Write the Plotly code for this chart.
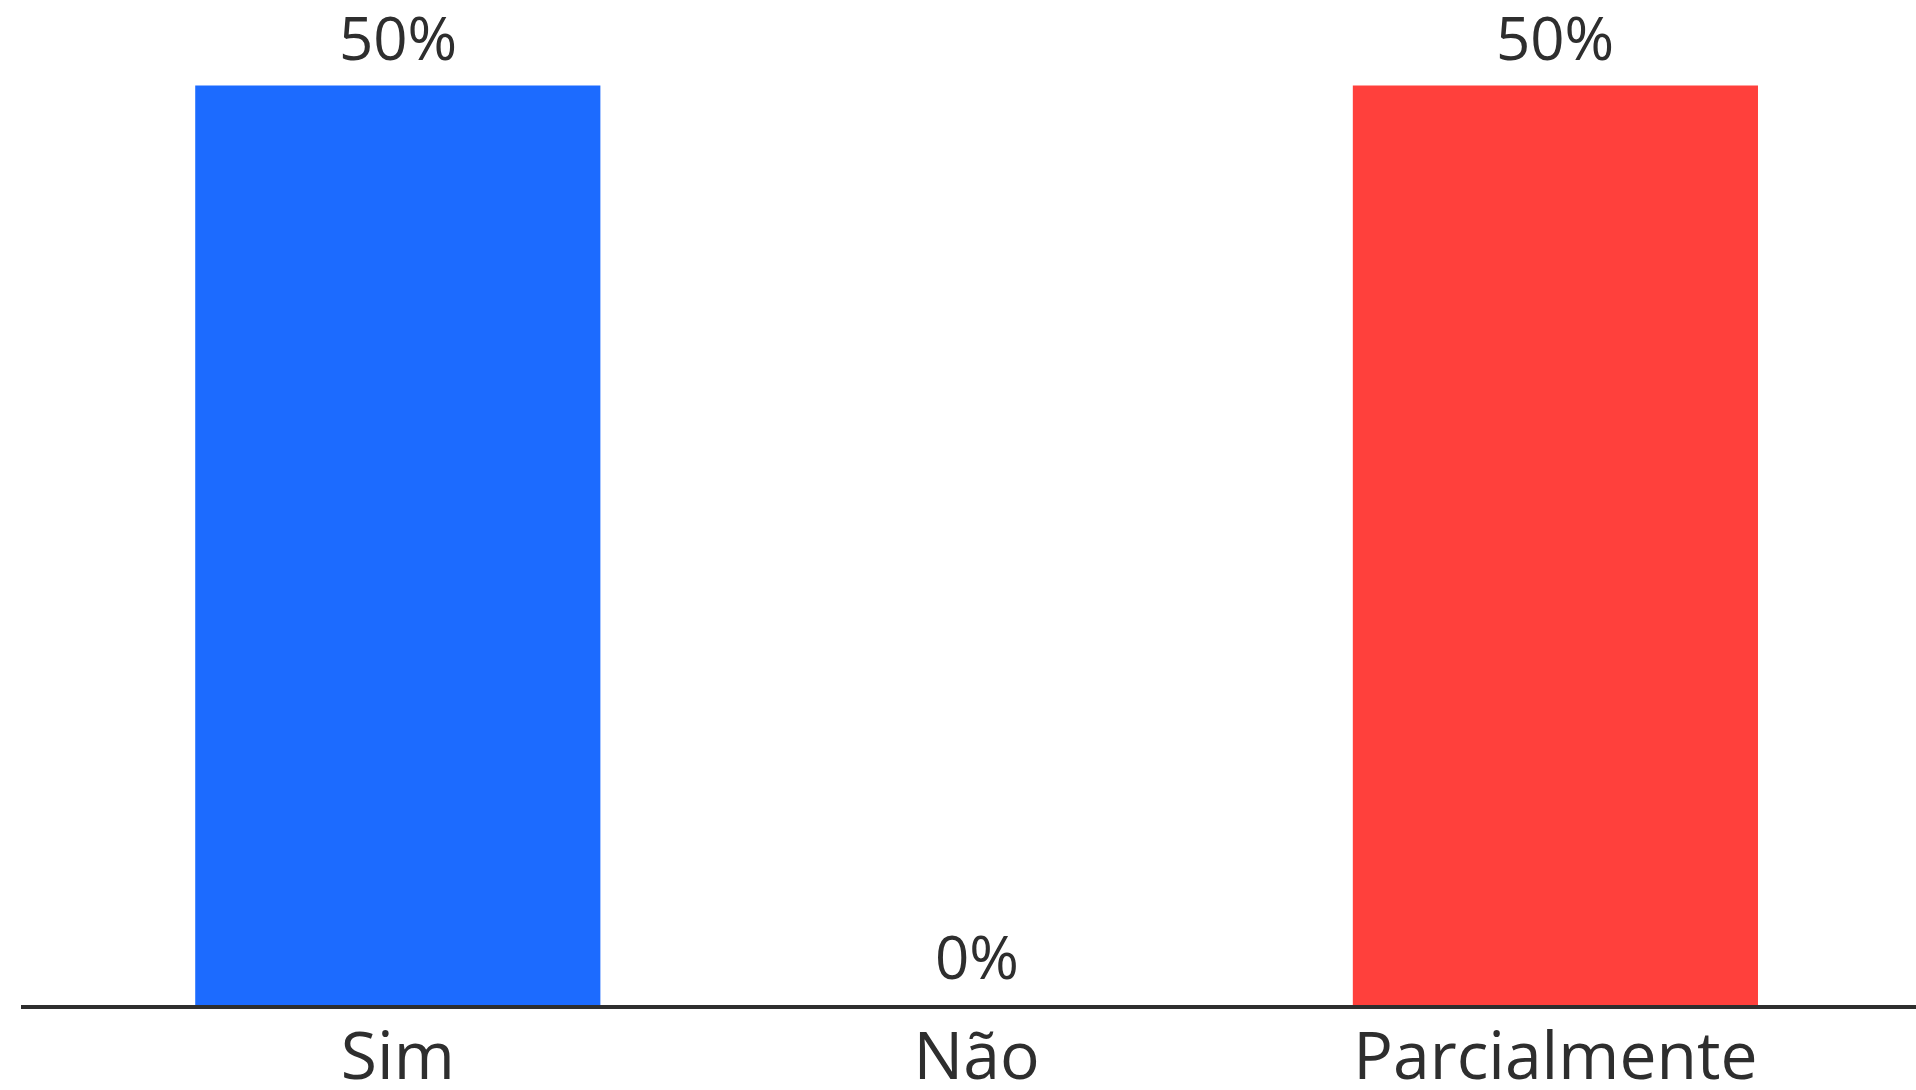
import plotly.graph_objects as go

categories = ["Sim", "Não", "Parcialmente"]
values = [50, 0, 50]
labels = ["50%", "0%", "50%"]
colors = ["#1C6BFF", "#FFFFFF", "#FF403C"]

FONT = "Open Sans"
TEXT_COLOR = "#2E2E2E"

fig = go.Figure()
fig.add_trace(go.Bar(
    x=categories, y=values, marker=dict(color=colors, line=dict(width=0)),
    width=0.7, hoverinfo="skip", showlegend=False,
))
for c, v, t in zip(categories, values, labels):
    fig.add_annotation(x=c, y=v, text=t, showarrow=False, yanchor="bottom",
                       yshift=6, font=dict(family=FONT, size=60, color=TEXT_COLOR))

fig.update_layout(
    width=1916, height=1090,
    margin=dict(l=21, r=0, t=0, b=85),
    paper_bgcolor="white", plot_bgcolor="white",
    font=dict(family=FONT, color=TEXT_COLOR),
)
fig.update_xaxes(
    range=[-0.651, 2.623], showline=True, linecolor="#2E2E2E", linewidth=4,
    showgrid=False, zeroline=False, ticks="", automargin=False,
    tickfont=dict(family=FONT, size=66, color=TEXT_COLOR),
    ticklabelstandoff=-9,
)
fig.update_yaxes(range=[0, 54.65], visible=False, showgrid=False, zeroline=False,
                 automargin=False)

fig.write_html(
    "out.html",
    config={"displayModeBar": False},
    post_script="document.body.style.margin='0';document.body.style.overflow='hidden';",
)
